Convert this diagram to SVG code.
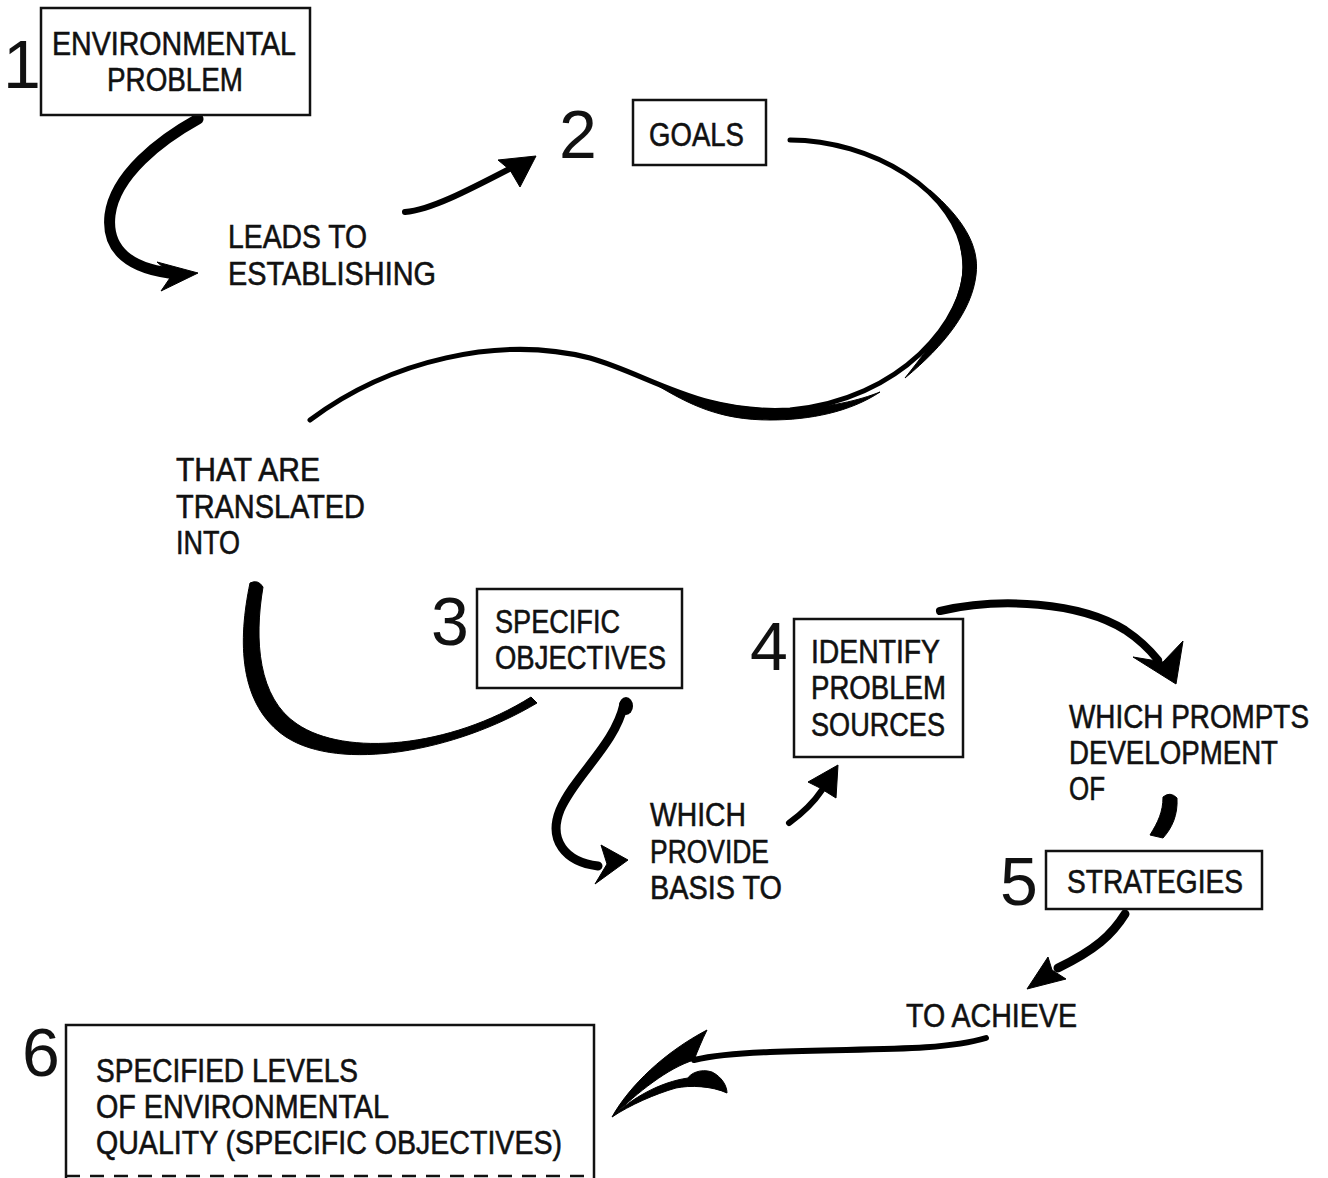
<svg xmlns="http://www.w3.org/2000/svg" width="1328" height="1178" viewBox="0 0 1328 1178">
<style>
.box{fill:#fff;stroke:#111;stroke-width:2.5}
.t{font-family:"Liberation Sans",Arial,sans-serif;font-size:34px;fill:#111;stroke:#111;stroke-width:0.6}
.n{font-family:"Liberation Sans",Arial,sans-serif;font-size:68px;fill:#111}
.s{fill:none;stroke:#000;stroke-linecap:round;stroke-linejoin:round}
.f{fill:#000;stroke:#000;stroke-width:1;stroke-linejoin:round}
</style>
<rect width="1328" height="1178" fill="#fff"/>
<g id="connectors">
  <!-- 1 -> leads to -->
  <path class="s" stroke-width="11" d="M198,119 C160,140 115,175 110,215 C106,250 130,270 178,274"/>
  <path class="f" d="M198,273 L157,262 L172,275 L161,291 Z"/>
  <!-- leads to -> 2 -->
  <path class="s" stroke-width="6" d="M405,212 C430,210 465,192 515,166"/>
  <path class="f" d="M536,156 L498,160 L510,170 L520,187 Z"/>
  <!-- goals loop -->
  <path class="s" stroke-width="5" d="M790,140 C870,140 960,190 965,262 C968,320 900,400 790,410 C700,415 650,375 590,358 C500,335 390,360 310,420"/>
  <path class="f" d="M930,190 C962,218 980,245 976,275 C972,310 945,345 905,378 C935,340 962,305 963,268 C962,235 950,210 930,190 Z"/>
  <path class="f" d="M880,392 C850,412 810,420 770,420 C720,420 690,405 655,384 C700,400 740,410 785,409 C830,408 860,400 880,392 Z"/>
  <!-- into -> 3 -->
  <path class="f" d="M250,583 C238,640 238,705 286,737 C340,772 455,752 537,703 L531,697 C450,748 345,757 297,724 C258,698 254,640 263,587 Q258,579 250,583 Z"/>
  <!-- 3 -> which provide -->
  <path class="s" stroke-width="9" d="M624,704 C615,745 575,775 560,810 C548,840 565,862 598,866"/>
  <ellipse cx="626" cy="706" rx="7" ry="9" fill="#000"/>
  <path class="f" d="M628,860 L601,845 L607,864 L595,884 Z"/>
  <!-- basis to -> 4 -->
  <path class="s" stroke-width="6" d="M789,823 C800,815 812,805 822,790"/>
  <path class="f" d="M838,765 L808,782 L820,788 L836,798 Z"/>
  <!-- 4 -> which prompts -->
  <path class="s" stroke-width="8" d="M940,611 C1000,597 1080,602 1125,630 C1140,640 1150,650 1158,660"/>
  <path class="f" d="M1176,684 L1133,657 L1163,662 L1183,641 Z"/>
  <!-- of -> 5 -->
  <path class="f" d="M1163,797 Q1170,791 1177,798 C1178,815 1172,828 1163,838 L1150,835 C1158,822 1163,812 1163,797 Z"/>
  <!-- 5 -> to achieve -->
  <path class="s" stroke-width="9" d="M1125,914 C1112,935 1095,950 1058,968"/>
  <path class="f" d="M1027,989 L1048,957 L1052,970 L1066,979 Z"/>
  <!-- to achieve -> 6 -->
  <path class="s" stroke-width="6" d="M986,1038 C940,1052 860,1048 770,1052 C740,1053 715,1055 694,1060"/>
  <path class="f" d="M612,1117 C630,1085 665,1052 707,1030 C702,1040 698,1050 694,1060 C668,1068 638,1092 612,1117 Z"/>
  <path class="f" d="M612,1117 C632,1098 660,1082 688,1078 C690,1074 700,1068 712,1072 C722,1077 727,1086 727,1093 C712,1086 690,1085 676,1088 C655,1094 630,1105 612,1117 Z"/>
</g>
<g id="node1">
  <text class="n" x="3" y="88">1</text>
  <rect class="box" x="41" y="8" width="269" height="107"/>
  <text class="t" x="52" y="55" textLength="244" lengthAdjust="spacingAndGlyphs">ENVIRONMENTAL</text>
  <text class="t" x="107" y="91" textLength="136" lengthAdjust="spacingAndGlyphs">PROBLEM</text>
</g>
<g id="label-leads">
  <text class="t" x="228" y="248" textLength="139" lengthAdjust="spacingAndGlyphs">LEADS TO</text>
  <text class="t" x="228" y="285" textLength="208" lengthAdjust="spacingAndGlyphs">ESTABLISHING</text>
</g>
<g id="node2">
  <text class="n" x="559" y="158">2</text>
  <rect class="box" x="633" y="100" width="133" height="65"/>
  <text class="t" x="649" y="146" textLength="95" lengthAdjust="spacingAndGlyphs">GOALS</text>
</g>
<g id="label-translated">
  <text class="t" x="176" y="481" textLength="144" lengthAdjust="spacingAndGlyphs">THAT ARE</text>
  <text class="t" x="176" y="518" textLength="189" lengthAdjust="spacingAndGlyphs">TRANSLATED</text>
  <text class="t" x="176" y="554" textLength="64" lengthAdjust="spacingAndGlyphs">INTO</text>
</g>
<g id="node3">
  <text class="n" x="431" y="645">3</text>
  <rect class="box" x="477" y="589" width="205" height="99"/>
  <text class="t" x="495" y="633" textLength="125" lengthAdjust="spacingAndGlyphs">SPECIFIC</text>
  <text class="t" x="495" y="669" textLength="171" lengthAdjust="spacingAndGlyphs">OBJECTIVES</text>
</g>
<g id="label-basis">
  <text class="t" x="650" y="826" textLength="96" lengthAdjust="spacingAndGlyphs">WHICH</text>
  <text class="t" x="650" y="863" textLength="119" lengthAdjust="spacingAndGlyphs">PROVIDE</text>
  <text class="t" x="650" y="899" textLength="132" lengthAdjust="spacingAndGlyphs">BASIS TO</text>
</g>
<g id="node4">
  <text class="n" x="750" y="670">4</text>
  <rect class="box" x="794" y="619" width="169" height="138"/>
  <text class="t" x="811" y="663" textLength="129" lengthAdjust="spacingAndGlyphs">IDENTIFY</text>
  <text class="t" x="811" y="699" textLength="135" lengthAdjust="spacingAndGlyphs">PROBLEM</text>
  <text class="t" x="811" y="736" textLength="134" lengthAdjust="spacingAndGlyphs">SOURCES</text>
</g>
<g id="label-prompts">
  <text class="t" transform="translate(1069,728) scale(0.82,1)" x="0" y="0">WHICH PROMPTS</text>
  <text class="t" x="1069" y="764" textLength="209" lengthAdjust="spacingAndGlyphs">DEVELOPMENT</text>
  <text class="t" x="1069" y="800" textLength="36" lengthAdjust="spacingAndGlyphs">OF</text>
</g>
<g id="node5">
  <text class="n" x="1000" y="905">5</text>
  <rect class="box" x="1046" y="851" width="216" height="58"/>
  <text class="t" x="1067" y="893" textLength="176" lengthAdjust="spacingAndGlyphs">STRATEGIES</text>
</g>
<g id="label-achieve">
  <text class="t" x="906" y="1027" textLength="171" lengthAdjust="spacingAndGlyphs">TO ACHIEVE</text>
</g>
<g id="node6">
  <text class="n" x="22" y="1076">6</text>
  <path fill="#fff" stroke="#111" stroke-width="2.5" d="M66,1178 L66,1025 L594,1025 L594,1178"/>
  <path fill="none" stroke="#111" stroke-width="2.5" stroke-dasharray="14 10" d="M66,1176 L594,1176"/>
  <text class="t" x="96" y="1082" textLength="262" lengthAdjust="spacingAndGlyphs">SPECIFIED LEVELS</text>
  <text class="t" x="96" y="1118" textLength="293" lengthAdjust="spacingAndGlyphs">OF ENVIRONMENTAL</text>
  <text class="t" x="96" y="1154" textLength="466" lengthAdjust="spacingAndGlyphs">QUALITY (SPECIFIC OBJECTIVES)</text>
</g>
</svg>
